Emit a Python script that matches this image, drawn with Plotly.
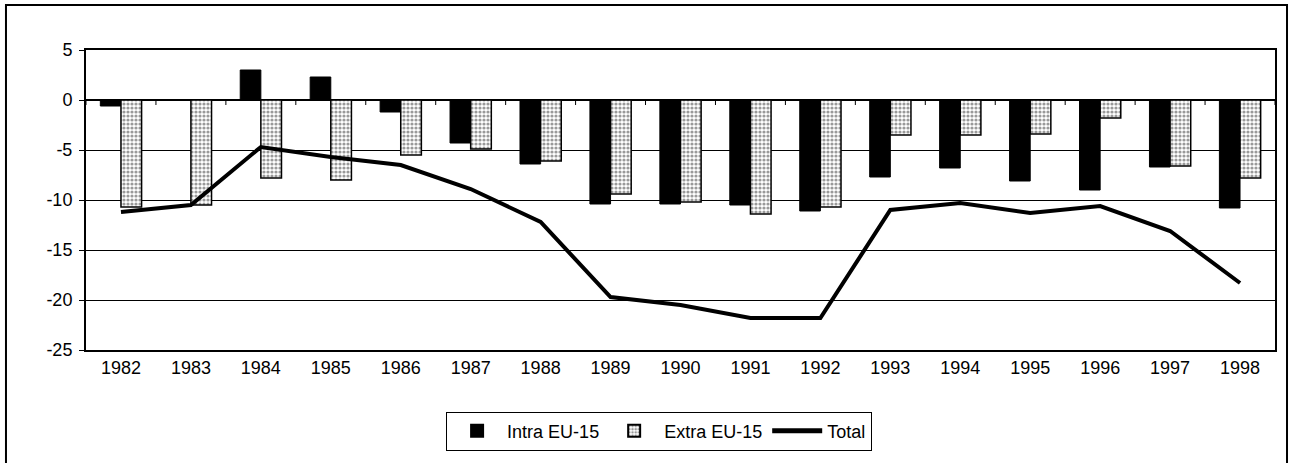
import plotly.graph_objects as go

years = ["1982", "1983", "1984", "1985", "1986", "1987", "1988", "1989", "1990",
         "1991", "1992", "1993", "1994", "1995", "1996", "1997", "1998"]
intra_eu15 = [-0.6, 0.0, 3.0, 2.3, -1.2, -4.3, -6.4, -10.4, -10.4,
              -10.5, -11.1, -7.7, -6.8, -8.1, -9.0, -6.7, -10.8]
extra_eu15 = [-10.7, -10.5, -7.8, -8.0, -5.5, -4.9, -6.1, -9.4, -10.2,
              -11.4, -10.7, -3.5, -3.5, -3.4, -1.8, -6.6, -7.8]
total = [-11.2, -10.5, -4.7, -5.7, -6.5, -8.9, -12.2, -19.7, -20.5,
         -21.8, -21.8, -11.0, -10.3, -11.3, -10.6, -13.1, -18.3]
y_ticks = [5, 0, -5, -10, -15, -20, -25]

FONT = "Liberation Sans, Arial, sans-serif"

fig = go.Figure()
fig.add_trace(go.Bar(
    x=years, y=intra_eu15, name="Intra EU-15",
    marker=dict(color="black", line=dict(color="black", width=1)),
))
fig.add_trace(go.Bar(
    x=years, y=extra_eu15, name="Extra EU-15",
    marker=dict(color="white", line=dict(color="black", width=1.5),
                pattern=dict(shape=".", fgcolor="#333333", bgcolor="white",
                             size=4, solidity=0.5)),
))
fig.add_trace(go.Scatter(
    x=years, y=total, name="Total", mode="lines",
    line=dict(color="black", width=4),
))

# small tick marks on the zero line at category boundaries
shapes = []
for i in range(len(years) + 1):
    shapes.append(dict(type="line", xref="x", yref="y", x0=i - 0.5, x1=i - 0.5,
                       y0=0, y1=-0.5, line=dict(color="black", width=1)))
# outer chart frame
shapes.append(dict(type="rect", xref="paper", yref="paper",
                   x0=-0.0673, x1=1.0101, y0=-0.39, y1=1.15,
                   line=dict(color="black", width=2), layer="below"))

fig.update_layout(
    width=1292, height=463,
    margin=dict(l=86, r=17, t=50, b=113),
    paper_bgcolor="white", plot_bgcolor="white",
    font=dict(family=FONT, size=18, color="black"),
    barmode="group", bargap=0.41, bargroupgap=0.0,
    showlegend=True,
    legend=dict(orientation="h", x=0.482, xanchor="center", y=-0.205, yanchor="top",
                bordercolor="black", borderwidth=1, bgcolor="white",
                font=dict(family=FONT, size=18, color="black"),
                itemwidth=50, traceorder="normal", tracegroupgap=0,
                itemsizing="constant"),
    shapes=shapes,
)
fig.update_xaxes(
    type="category", showgrid=False, showline=True, linecolor="black", linewidth=2,
    mirror=True, ticks="", tickfont=dict(family=FONT, size=18, color="black"),
    range=[-0.5, len(years) - 0.5],
)
fig.update_yaxes(
    range=[-25, 5], tickvals=y_ticks, ticktext=[str(v) for v in y_ticks],
    showgrid=True, gridcolor="black", gridwidth=1,
    zeroline=True, zerolinecolor="black", zerolinewidth=1.5,
    showline=True, linecolor="black", linewidth=2, mirror=True,
    ticks="outside", ticklen=5, tickcolor="black", ticklabelstandoff=3,
    tickfont=dict(family=FONT, size=18, color="black"),
)

fig.write_html("out.html", config={"displayModeBar": False},
               post_script="document.body.style.margin='0';")
